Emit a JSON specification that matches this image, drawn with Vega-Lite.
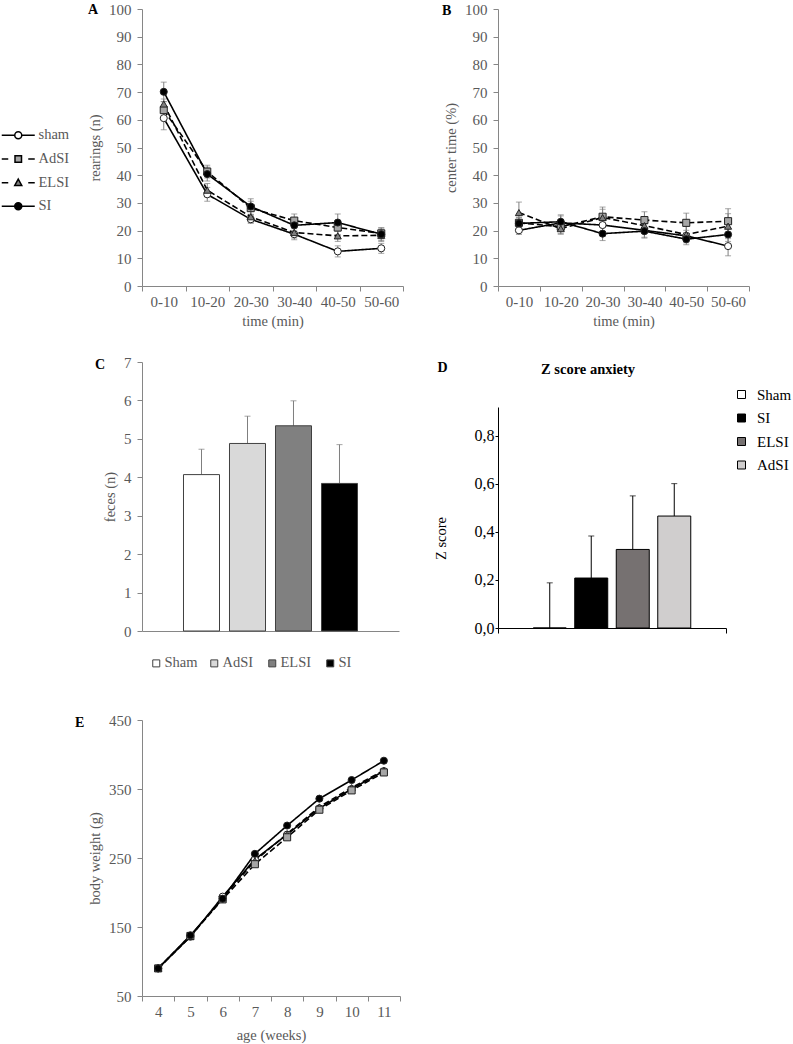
{
  "$schema": "https://vega.github.io/schema/vega-lite/v6.json",
  "background": "white",
  "padding": {"left": 0, "top": 2, "right": 2, "bottom": 3},
  "datasets": {
    "rearings": [
      {"time": "0-10", "group": "sham", "mean": 60.6, "sem": 4.2},
      {"time": "10-20", "group": "sham", "mean": 33.1, "sem": 2.5},
      {"time": "20-30", "group": "sham", "mean": 24.1, "sem": 1.5},
      {"time": "30-40", "group": "sham", "mean": 18.7, "sem": 2.0},
      {"time": "40-50", "group": "sham", "mean": 12.5, "sem": 2.0},
      {"time": "50-60", "group": "sham", "mean": 13.6, "sem": 1.8},
      {"time": "0-10", "group": "AdSI", "mean": 63.5, "sem": 3.0},
      {"time": "10-20", "group": "AdSI", "mean": 41.3, "sem": 2.3},
      {"time": "20-30", "group": "AdSI", "mean": 28.1, "sem": 2.5},
      {"time": "30-40", "group": "AdSI", "mean": 23.6, "sem": 2.4},
      {"time": "40-50", "group": "AdSI", "mean": 21.1, "sem": 2.5},
      {"time": "50-60", "group": "AdSI", "mean": 19.0, "sem": 2.0},
      {"time": "0-10", "group": "ELSI", "mean": 65.7, "sem": 1.8},
      {"time": "10-20", "group": "ELSI", "mean": 34.6, "sem": 2.4},
      {"time": "20-30", "group": "ELSI", "mean": 25.0, "sem": 2.0},
      {"time": "30-40", "group": "ELSI", "mean": 19.3, "sem": 2.0},
      {"time": "40-50", "group": "ELSI", "mean": 18.1, "sem": 2.0},
      {"time": "50-60", "group": "ELSI", "mean": 18.3, "sem": 2.2},
      {"time": "0-10", "group": "SI", "mean": 70.1, "sem": 3.5},
      {"time": "10-20", "group": "SI", "mean": 40.4, "sem": 2.5},
      {"time": "20-30", "group": "SI", "mean": 28.7, "sem": 2.8},
      {"time": "30-40", "group": "SI", "mean": 21.9, "sem": 2.0},
      {"time": "40-50", "group": "SI", "mean": 22.9, "sem": 3.1},
      {"time": "50-60", "group": "SI", "mean": 18.7, "sem": 2.3}
    ],
    "center": [
      {"time": "0-10", "group": "sham", "mean": 20.1, "sem": 1.5},
      {"time": "10-20", "group": "sham", "mean": 22.8, "sem": 2.5},
      {"time": "20-30", "group": "sham", "mean": 22.0, "sem": 3.0},
      {"time": "30-40", "group": "sham", "mean": 20.1, "sem": 2.5},
      {"time": "40-50", "group": "sham", "mean": 18.1, "sem": 2.0},
      {"time": "50-60", "group": "sham", "mean": 14.4, "sem": 3.5},
      {"time": "0-10", "group": "AdSI", "mean": 22.8, "sem": 2.0},
      {"time": "10-20", "group": "AdSI", "mean": 21.4, "sem": 2.5},
      {"time": "20-30", "group": "AdSI", "mean": 25.0, "sem": 3.5},
      {"time": "30-40", "group": "AdSI", "mean": 23.8, "sem": 3.0},
      {"time": "40-50", "group": "AdSI", "mean": 22.8, "sem": 3.5},
      {"time": "50-60", "group": "AdSI", "mean": 23.4, "sem": 4.5},
      {"time": "0-10", "group": "ELSI", "mean": 26.5, "sem": 3.8},
      {"time": "10-20", "group": "ELSI", "mean": 20.7, "sem": 2.0},
      {"time": "20-30", "group": "ELSI", "mean": 24.7, "sem": 3.0},
      {"time": "30-40", "group": "ELSI", "mean": 21.8, "sem": 2.5},
      {"time": "40-50", "group": "ELSI", "mean": 18.6, "sem": 3.0},
      {"time": "50-60", "group": "ELSI", "mean": 21.6, "sem": 4.5},
      {"time": "0-10", "group": "SI", "mean": 22.6, "sem": 2.0},
      {"time": "10-20", "group": "SI", "mean": 23.2, "sem": 2.5},
      {"time": "20-30", "group": "SI", "mean": 18.9, "sem": 2.5},
      {"time": "30-40", "group": "SI", "mean": 19.8, "sem": 2.5},
      {"time": "40-50", "group": "SI", "mean": 16.9, "sem": 2.0},
      {"time": "50-60", "group": "SI", "mean": 18.6, "sem": 2.5}
    ],
    "feces": [
      {"panel": "C", "group": "Sham", "mean": 4.07, "top": 4.73},
      {"panel": "C", "group": "AdSI", "mean": 4.88, "top": 5.59},
      {"panel": "C", "group": "ELSI", "mean": 5.34, "top": 5.99},
      {"panel": "C", "group": "SI", "mean": 3.84, "top": 4.85}
    ],
    "zscore": [
      {"panel": "D", "group": "Sham", "mean": 0.0, "top": 0.188},
      {"panel": "D", "group": "SI", "mean": 0.208, "top": 0.383},
      {"panel": "D", "group": "ELSI", "mean": 0.327, "top": 0.55},
      {"panel": "D", "group": "AdSI", "mean": 0.466, "top": 0.601}
    ],
    "weight": [
      {"week": 4, "group": "sham", "mean": 90},
      {"week": 5, "group": "sham", "mean": 136},
      {"week": 6, "group": "sham", "mean": 194},
      {"week": 7, "group": "sham", "mean": 248},
      {"week": 8, "group": "sham", "mean": 284},
      {"week": 9, "group": "sham", "mean": 322},
      {"week": 10, "group": "sham", "mean": 350},
      {"week": 11, "group": "sham", "mean": 376},
      {"week": 4, "group": "ELSI", "mean": 90},
      {"week": 5, "group": "ELSI", "mean": 136},
      {"week": 6, "group": "ELSI", "mean": 192},
      {"week": 7, "group": "ELSI", "mean": 246},
      {"week": 8, "group": "ELSI", "mean": 285},
      {"week": 9, "group": "ELSI", "mean": 324},
      {"week": 10, "group": "ELSI", "mean": 352},
      {"week": 11, "group": "ELSI", "mean": 377},
      {"week": 4, "group": "AdSI", "mean": 90},
      {"week": 5, "group": "AdSI", "mean": 137},
      {"week": 6, "group": "AdSI", "mean": 190},
      {"week": 7, "group": "AdSI", "mean": 241},
      {"week": 8, "group": "AdSI", "mean": 280},
      {"week": 9, "group": "AdSI", "mean": 320},
      {"week": 10, "group": "AdSI", "mean": 348},
      {"week": 11, "group": "AdSI", "mean": 374},
      {"week": 4, "group": "SI", "mean": 90},
      {"week": 5, "group": "SI", "mean": 138},
      {"week": 6, "group": "SI", "mean": 191},
      {"week": 7, "group": "SI", "mean": 256},
      {"week": 8, "group": "SI", "mean": 297},
      {"week": 9, "group": "SI", "mean": 336},
      {"week": 10, "group": "SI", "mean": 363},
      {"week": 11, "group": "SI", "mean": 391}
    ]
  },
  "columns": 2,
  "bounds": "flush",
  "spacing": {"row": 76, "column": 95},
  "resolve": {
    "scale": {"x": "independent", "y": "independent", "fill": "independent", "xOffset": "independent", "shape": "independent", "strokeDash": "independent"},
    "legend": {"fill": "independent", "shape": "independent", "strokeDash": "independent"}
  },
  "concat": [
    {
      "width": 261,
      "height": 277,
      "title": {"text": "A", "anchor": "start", "frame": "group", "dx": -54, "offset": -15},
      "data": {"name": "rearings"},
      "encoding": {
        "x": {"field": "time", "type": "ordinal", "sort": null, "scale": {"type": "band", "paddingInner": 0, "paddingOuter": 0}, "axis": {"title": "time (min)", "labelAngle": 0, "tickBand": "extent"}},
        "y": {"field": "mean", "type": "quantitative", "scale": {"domain": [0, 100], "nice": false}, "axis": {"title": "rearings (n)", "values": [0, 10, 20, 30, 40, 50, 60, 70, 80, 90, 100]}}
      },
      "layer": [
        {"mark": {"type": "errorbar", "ticks": {"size": 6}, "color": "#7f7f7f"}, "encoding": {"yError": {"field": "sem"}}},
        {"mark": {"type": "line", "color": "black", "strokeWidth": 1.6}, "encoding": {"strokeDash": {"field": "group", "type": "nominal", "scale": {"domain": ["sham", "AdSI", "ELSI", "SI"], "range": [[1, 0], [6, 3], [6, 3], [1, 0]]}, "legend": null}}},
        {"mark": {"type": "point", "filled": true, "size": 50, "stroke": "#222222", "strokeWidth": 1, "opacity": 1}, "encoding": {
          "shape": {"field": "group", "type": "nominal", "scale": {"domain": ["sham", "AdSI", "ELSI", "SI"], "range": ["circle", "square", "triangle-up", "circle"]}, "legend": null},
          "fill": {"field": "group", "type": "nominal", "scale": {"domain": ["sham", "AdSI", "ELSI", "SI"], "range": ["white", "#a6a6a6", "#7f7f7f", "black"]}, "legend": null}
        }},
        {"mark": {"type": "point", "filled": true, "size": 100, "opacity": 0, "stroke": "black"}, "encoding": {
          "shape": {"field": "group", "type": "nominal", "scale": {"domain": ["sham", "AdSI", "ELSI", "SI"], "range": [
            "M-3.3,0H-0.7M0.7,0H3.3M0.7,0A0.7,0.7,0,1,1,-0.7,0A0.7,0.7,0,1,1,0.7,0Z",
            "M-3.3,0H-2M2,0H3.3M-0.65,-0.65H0.65V0.65H-0.65Z",
            "M-3.3,0H-2M2,0H3.3M0,-0.7L0.7,0.55H-0.7Z",
            "M-3.3,0H3.3M0.7,0A0.7,0.7,0,1,1,-0.7,0A0.7,0.7,0,1,1,0.7,0Z"
          ]}, "legend": {"orient": "none", "legendX": -142, "legendY": 119, "title": null, "padding": 0, "symbolSize": 100, "symbolOffset": 11, "symbolOpacity": 1, "labelOffset": 13, "rowPadding": 8.7, "labelFontSize": 14.5, "encode": {"symbols": {"update": {"stroke": {"value": "black"}, "strokeWidth": {"value": 1.4}, "opacity": {"value": 1}}}}}},
          "fill": {"field": "group", "type": "nominal", "scale": {"domain": ["sham", "AdSI", "ELSI", "SI"], "range": ["white", "#a6a6a6", "#7f7f7f", "black"]}, "legend": {"orient": "none", "legendX": -142, "legendY": 119, "title": null, "padding": 0, "symbolSize": 100, "symbolOffset": 11, "symbolOpacity": 1, "labelOffset": 13, "rowPadding": 8.7, "labelFontSize": 14.5, "encode": {"symbols": {"update": {"stroke": {"value": "black"}, "strokeWidth": {"value": 1.4}, "opacity": {"value": 1}}}}}}
        }}
      ],
      "resolve": {"scale": {"shape": "independent", "fill": "independent"}}
    },
    {
      "width": 251,
      "height": 277,
      "title": {"text": "B", "anchor": "start", "frame": "group", "dx": -56, "offset": -16},
      "data": {"name": "center"},
      "encoding": {
        "x": {"field": "time", "type": "ordinal", "sort": null, "scale": {"type": "band", "paddingInner": 0, "paddingOuter": 0}, "axis": {"title": "time (min)", "labelAngle": 0, "tickBand": "extent"}},
        "y": {"field": "mean", "type": "quantitative", "scale": {"domain": [0, 100], "nice": false}, "axis": {"title": "center time (%)", "values": [0, 10, 20, 30, 40, 50, 60, 70, 80, 90, 100]}}
      },
      "layer": [
        {"mark": {"type": "errorbar", "ticks": {"size": 6}, "color": "#7f7f7f"}, "encoding": {"yError": {"field": "sem"}}},
        {"mark": {"type": "line", "color": "black", "strokeWidth": 1.6}, "encoding": {"strokeDash": {"field": "group", "type": "nominal", "scale": {"domain": ["sham", "AdSI", "ELSI", "SI"], "range": [[1, 0], [6, 3], [6, 3], [1, 0]]}, "legend": null}}},
        {"mark": {"type": "point", "filled": true, "size": 50, "stroke": "#222222", "strokeWidth": 1, "opacity": 1}, "encoding": {
          "shape": {"field": "group", "type": "nominal", "scale": {"domain": ["sham", "AdSI", "ELSI", "SI"], "range": ["circle", "square", "triangle-up", "circle"]}, "legend": null},
          "fill": {"field": "group", "type": "nominal", "scale": {"domain": ["sham", "AdSI", "ELSI", "SI"], "range": ["white", "#a6a6a6", "#7f7f7f", "black"]}, "legend": null}
        }}
      ]
    },
    {
      "width": 257,
      "height": 269,
      "title": {"text": "C", "anchor": "start", "frame": "group", "dx": -47, "offset": -17},
      "data": {"name": "feces"},
      "encoding": {
        "x": {"field": "panel", "type": "nominal", "scale": {"paddingInner": 0, "paddingOuter": 0}, "axis": {"title": null, "labels": false, "ticks": false}},
        "xOffset": {"field": "group", "type": "nominal", "sort": null, "scale": {"domain": ["Sham", "AdSI", "ELSI", "SI"], "paddingInner": 0.217, "paddingOuter": 0.902}},
        "y": {"field": "mean", "type": "quantitative", "title": "feces (n)", "scale": {"domain": [0, 7], "nice": false}, "axis": {"values": [0, 1, 2, 3, 4, 5, 6, 7]}}
      },
      "layer": [
        {"mark": {"type": "rule", "color": "#7f7f7f", "strokeWidth": 1}, "encoding": {"y2": {"field": "top"}}},
        {"mark": {"type": "tick", "color": "#7f7f7f", "thickness": 1, "size": 6}, "encoding": {"y": {"field": "top", "type": "quantitative", "title": "feces (n)", "scale": {"domain": [0, 7], "nice": false}, "axis": {"values": [0, 1, 2, 3, 4, 5, 6, 7]}}}},
        {"mark": {"type": "bar", "stroke": "#404040", "strokeWidth": 1}, "encoding": {
          "fill": {"field": "group", "type": "nominal", "sort": null, "scale": {"domain": ["Sham", "AdSI", "ELSI", "SI"], "range": ["white", "#d9d9d9", "#808080", "black"]}, "legend": {"orient": "none", "direction": "horizontal", "columns": 4, "gridAlign": "all", "legendX": 7, "legendY": 294, "title": null, "padding": 0, "symbolType": "square", "symbolSize": 49, "symbolStrokeColor": "#404040", "symbolStrokeWidth": 1, "labelOffset": 1, "columnPadding": 9, "labelFontSize": 14.5}}
        }}
      ]
    },
    {
      "width": 228,
      "height": 282,
      "title": {"text": "Z score anxiety", "anchor": "middle", "frame": "group", "dx": -24, "offset": -17, "fontSize": 14.5},
      "data": {"name": "zscore"},
      "encoding": {
        "x": {"field": "panel", "type": "nominal", "scale": {"paddingInner": 0, "paddingOuter": 0}, "axis": {"labels": false, "tickBand": "extent", "offset": -16, "domainColor": "black", "tickColor": "black", "tickSize": 5, "title": "D", "titleX": -61, "titleY": -261, "titleAlign": "left", "titleBaseline": "middle", "titleAngle": 0, "titleFontWeight": "bold", "titleFontSize": 14, "titleColor": "black"}},
        "xOffset": {"field": "group", "type": "nominal", "sort": null, "scale": {"domain": ["Sham", "SI", "ELSI", "AdSI"], "paddingInner": 0.205, "paddingOuter": 0.849}},
        "y": {"field": "mean", "type": "quantitative", "title": "Z score", "scale": {"domain": [0, 0.92], "nice": false, "range": [266, 45]}, "axis": {"values": [0, 0.2, 0.4, 0.6, 0.8], "labelExpr": "replace(format(datum.value, '.1f'), '.', ',')", "labelColor": "black", "labelFontSize": 16, "labelPadding": 1, "titleColor": "black", "titlePadding": 26, "domainColor": "black", "tickColor": "black", "tickSize": 3, "titleY": 176}}
      },
      "layer": [
        {"mark": {"type": "rule", "color": "black", "strokeWidth": 1}, "encoding": {"y2": {"field": "top"}}},
        {"mark": {"type": "tick", "color": "black", "thickness": 1, "size": 6}, "encoding": {"y": {"field": "top", "type": "quantitative", "title": "Z score", "scale": {"domain": [0, 0.92], "nice": false, "range": [266, 45]}, "axis": {"values": [0, 0.2, 0.4, 0.6, 0.8], "labelExpr": "replace(format(datum.value, '.1f'), '.', ',')", "labelColor": "black", "labelFontSize": 16, "labelPadding": 1, "titleColor": "black", "titlePadding": 26, "domainColor": "black", "tickColor": "black", "tickSize": 3, "titleY": 176}}}},
        {"mark": {"type": "bar", "stroke": "black", "strokeWidth": 1}, "encoding": {
          "fill": {"field": "group", "type": "nominal", "sort": null, "scale": {"domain": ["Sham", "SI", "ELSI", "AdSI"], "range": ["white", "black", "#767171", "#d0cece"]}, "legend": {"orient": "none", "legendX": 236, "legendY": 25, "title": null, "padding": 0, "symbolType": "square", "symbolSize": 64, "symbolStrokeColor": "black", "symbolStrokeWidth": 1, "labelOffset": 8, "rowPadding": 7.5, "labelFontSize": 15, "labelColor": "black"}}
        }}
      ]
    },
    {
      "width": 258,
      "height": 276,
      "title": {"text": "E", "anchor": "start", "frame": "group", "dx": -67, "offset": -17},
      "data": {"name": "weight"},
      "encoding": {
        "x": {"field": "week", "type": "ordinal", "scale": {"type": "band", "paddingInner": 0, "paddingOuter": 0}, "axis": {"title": "age (weeks)", "labelAngle": 0, "tickBand": "extent", "titlePadding": 9}},
        "y": {"field": "mean", "type": "quantitative", "scale": {"domain": [50, 450], "nice": false}, "axis": {"title": "body weight (g)", "values": [50, 150, 250, 350, 450]}}
      },
      "layer": [
        {"mark": {"type": "line", "color": "black", "strokeWidth": 1.6}, "encoding": {"detail": {"field": "group"}, "strokeDash": {"field": "group", "type": "nominal", "scale": {"domain": ["sham", "AdSI", "ELSI", "SI"], "range": [[1, 0], [6, 3], [6, 3], [1, 0]]}, "legend": null}}},
        {"mark": {"type": "point", "filled": true, "size": 50, "stroke": "#222222", "strokeWidth": 1, "opacity": 1}, "encoding": {
          "shape": {"field": "group", "type": "nominal", "scale": {"domain": ["sham", "AdSI", "ELSI", "SI"], "range": ["circle", "square", "triangle-up", "circle"]}, "legend": null},
          "fill": {"field": "group", "type": "nominal", "scale": {"domain": ["sham", "AdSI", "ELSI", "SI"], "range": ["white", "#a6a6a6", "#7f7f7f", "black"]}, "legend": null}
        }}
      ]
    }
  ],
  "config": {
    "font": "Liberation Serif",
    "view": {"stroke": null},
    "axis": {"labelFont": "Liberation Serif", "titleFont": "Liberation Serif", "labelFontSize": 15, "titleFontSize": 14.5, "labelColor": "#595959", "titleColor": "#595959", "domainColor": "#868686", "tickColor": "#868686", "grid": false, "titleFontWeight": "normal", "tickSize": 5, "labelPadding": 3, "titlePadding": 5},
    "axisY": {"labelPadding": 6, "titlePadding": 6},
    "legend": {"labelFont": "Liberation Serif", "labelFontSize": 14.5, "labelColor": "#595959"},
    "title": {"font": "Liberation Serif", "fontSize": 14, "fontWeight": "bold", "color": "black"}
  }
}
